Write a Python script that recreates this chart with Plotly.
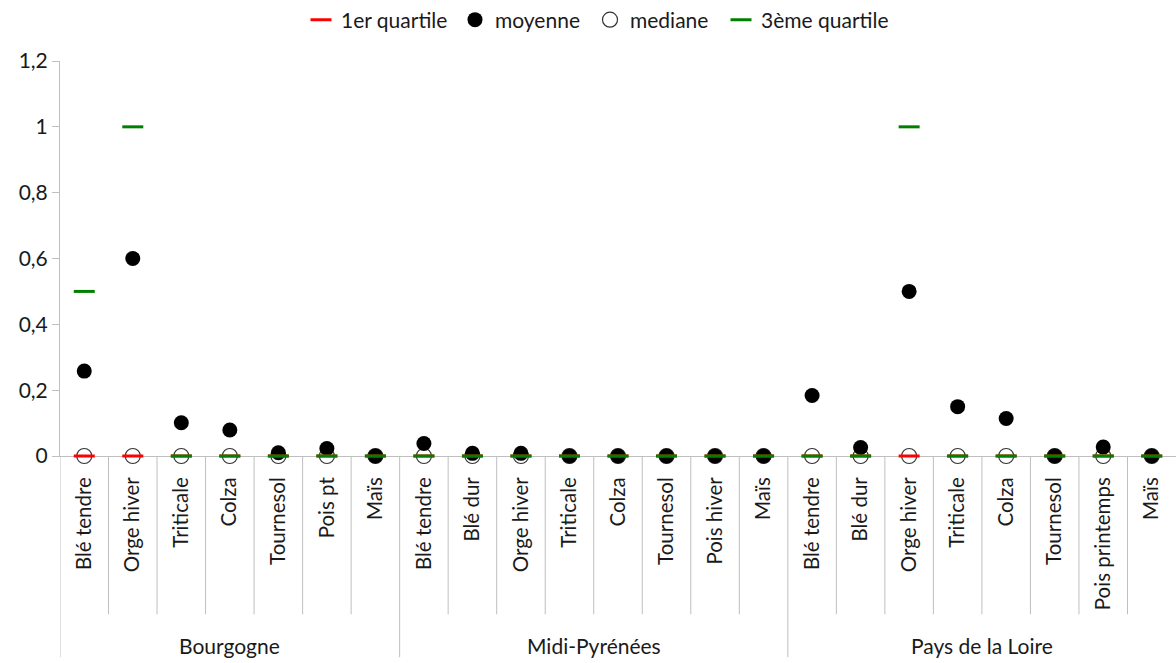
import plotly.graph_objects as go

regions = ["Bourgogne", "Midi-Pyrénées", "Pays de la Loire"]
region_sizes = [7, 8, 8]
crops = ["Blé tendre", "Orge hiver", "Triticale", "Colza", "Tournesol", "Pois pt", "Maïs",
         "Blé tendre", "Blé dur", "Orge hiver", "Triticale", "Colza", "Tournesol", "Pois hiver", "Maïs",
         "Blé tendre", "Blé dur", "Orge hiver", "Triticale", "Colza", "Tournesol", "Pois printemps", "Maïs"]
q1 = [0, 0, 0, 0, 0, 0, 0,
      0, 0, 0, 0, 0, 0, 0, 0,
      0, 0, 0, 0, 0, 0, 0, 0]
moyenne = [0.258, 0.60, 0.101, 0.079, 0.01, 0.023, 0,
           0.038, 0.008, 0.008, 0, 0, 0, 0, 0,
           0.184, 0.026, 0.50, 0.15, 0.114, 0, 0.027, 0]
mediane = [0, 0, 0, 0, 0, 0, 0,
           0, 0, 0, 0, 0, 0, 0, 0,
           0, 0, 0, 0, 0, 0, 0, 0]
q3 = [0.5, 1.0, 0, 0, 0, 0, 0,
      0, 0, 0, 0, 0, 0, 0, 0,
      0, 0, 1.0, 0, 0, 0, 0, 0]

x = list(range(len(crops)))
FONT = "Lato"
TXT = "#1a1a1a"
GRID = "#bfbfbf"
W, H = 1176, 663
TOP, BOT = 61, 456.5
plot_h = BOT - TOP

fig = go.Figure()
# drawing order: median, mean, Q1, Q3 (each with its own legend box)
fig.add_trace(go.Scatter(x=x, y=mediane, mode="markers", name="mediane", legend="legend3",
                         cliponaxis=False,
                         marker=dict(symbol="circle", size=15, color="white",
                                     line=dict(color="#333333", width=1.2))))
fig.add_trace(go.Scatter(x=x, y=moyenne, mode="markers", name="moyenne", legend="legend2",
                         cliponaxis=False,
                         marker=dict(symbol="circle", size=15, color="black",
                                     line=dict(color="black", width=0))))
fig.add_trace(go.Scatter(x=x, y=q1, mode="markers", name="1er quartile", legend="legend",
                         cliponaxis=False,
                         marker=dict(symbol="line-ew", size=15, color="#ff0000",
                                     line=dict(color="#ff0000", width=3))))
fig.add_trace(go.Scatter(x=x, y=q3, mode="markers", name="3ème quartile", legend="legend4",
                         cliponaxis=False,
                         marker=dict(symbol="line-ew", size=15, color="#008000",
                                     line=dict(color="#008000", width=3))))

def py(pix):
    return -(pix - BOT) / plot_h

shapes = []
bounds = [-0.5]
acc = -0.5
for s in region_sizes:
    acc += s
    bounds.append(acc)
group_bounds = set(bounds)
for i in range(len(crops)):
    b = i - 0.5
    long = b in group_bounds
    shapes.append(dict(type="line", xref="x", yref="paper", x0=b, x1=b,
                       y0=0, y1=py(658 if long else 615), layer="below",
                       line=dict(color=GRID, width=1)))

annotations = []
start = 0
for r, s in zip(regions, region_sizes):
    annotations.append(dict(x=start + (s - 1) / 2, y=py(646), xref="x", yref="paper",
                            text=r, showarrow=False, yanchor="middle",
                            font=dict(family=FONT, size=21, color=TXT)))
    start += s

def leg(px_left):
    return dict(orientation="h", xref="container", yref="container",
                x=px_left / W, xanchor="left", y=1 - 20 / H, yanchor="middle",
                font=dict(family=FONT, size=21, color=TXT), itemwidth=30,
                bgcolor="rgba(0,0,0,0)", borderwidth=0)

fig.update_layout(
    width=W, height=H,
    margin=dict(l=60, r=0, t=TOP, b=H - BOT, autoexpand=False),
    paper_bgcolor="white", plot_bgcolor="white",
    separators=", ",
    font=dict(family=FONT, size=18, color=TXT),
    showlegend=True,
    legend=leg(301), legend2=leg(455), legend3=leg(590), legend4=leg(721),
    shapes=shapes,
    annotations=annotations,
    xaxis=dict(range=[-0.5, len(crops) - 0.5], tickmode="array", tickvals=x, ticktext=crops,
               tickangle=-90, showgrid=False, zeroline=False, showline=True,
               linecolor=GRID, linewidth=1, ticks="", ticklabelstandoff=12,
               automargin=False, layer="below traces",
               tickfont=dict(family=FONT, size=20.5, color=TXT)),
    yaxis=dict(range=[0, 1.2], dtick=0.2, tick0=0, showgrid=False, zeroline=False,
               showline=True, linecolor=GRID, linewidth=1, ticks="outside", ticklen=7,
               tickcolor=GRID, automargin=False, layer="below traces",
               tickfont=dict(family=FONT, size=21, color=TXT)),
)

fig.write_html("out.html", config={"displayModeBar": False},
               post_script="document.body.style.margin='0';")
